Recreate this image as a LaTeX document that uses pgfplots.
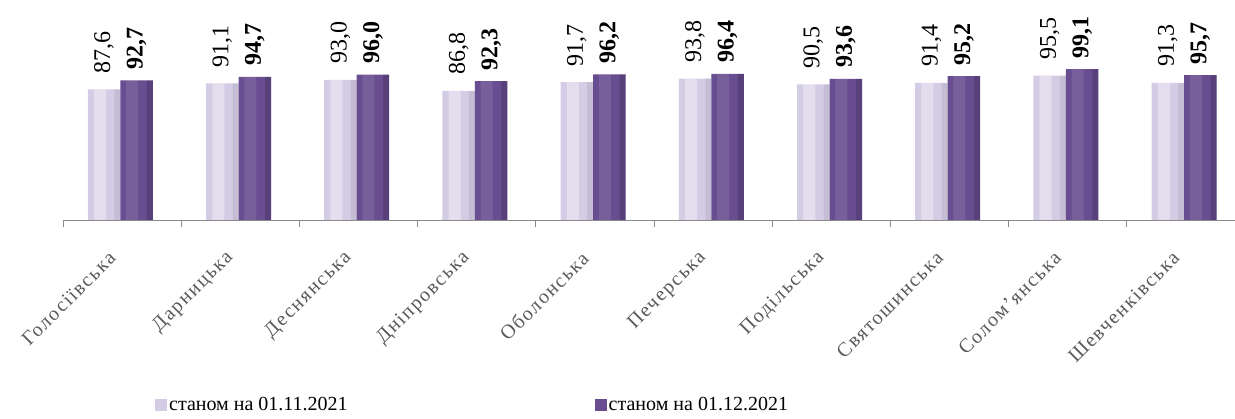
\documentclass[border=0pt]{standalone}
\usepackage{pgfplots}
\pgfplotsset{compat=1.18}
\usepackage{pgfplotstable}
\usepackage{fontspec}
\setmainfont{Liberation Serif}
\newfontfamily\catfont{Liberation Serif}[LetterSpace=8]
\definecolor{lav}{RGB}{212,204,229}
\definecolor{pur}{RGB}{104,77,145}
\pgfplotstableread{
x a b
0 87.6 92.7
1 91.1 94.7
2 93.0 96.0
3 86.8 92.3
4 91.7 96.2
5 93.8 96.4
6 90.5 93.6
7 91.4 95.2
8 95.5 99.1
9 91.3 95.7
}\datatab
\begin{document}
\begin{tikzpicture}
\path[use as bounding box] (0,0) rectangle (1235pt,419pt);
\begin{axis}[
  at={(63pt,199pt)}, anchor=south west,
  scale only axis, width=1182pt, height=170pt,
  xmin=-0.5, xmax=9.5, ymin=13.5, ymax=110,
  axis x line*=bottom, axis y line=none,
  x axis line style={draw=black!45, line width=0.8pt},
  ybar, bar width=32.5pt,
  xtick={0,...,9},
  xticklabels={Голосіївська, Дарницька, Деснянська, Дніпровська, Оболонська, Печерська, Подільська, Святошинська, Солом’янська, Шевченківська},
  major tick length=0pt,
  minor xtick={-0.5,0.5,...,9.5}, minor tick length=7pt,
  minor tick style={draw=black!45, line width=0.8pt},
  tick align=outside,
  xticklabel shift=25pt,
  xticklabel style={font=\catfont\fontsize{20}{24}\selectfont, text=black!65, rotate=45, anchor=east, inner sep=0pt, xshift=-14pt},
  point meta=y,
  /pgf/number format/use comma,
  /pgf/number format/fixed,
  /pgf/number format/fixed zerofill,
  /pgf/number format/precision=1,
  /pgf/number format/assume math mode=true,
  legend style={at={(0.0778,-1.088)}, anchor=west, draw=none, fill=none, inner sep=0pt,
    font=\fontsize{20}{24}\selectfont,
    /tikz/every even column/.append style={column sep=245pt}},
  legend columns=2,
  legend image code/.code={\fill[#1] (0pt,-6pt) rectangle (12pt,6pt);},
]
\addplot[draw=none, fill=lav, bar shift=-18pt, nodes near coords,
  every node near coord/.append style={font=\fontsize{24}{28}\selectfont, text=black, rotate=90, anchor=west, inner sep=0pt, outer sep=16pt}]
  table[x=x, y=a] {\datatab};
\addplot[draw=none, fill=pur, bar shift=14.5pt, nodes near coords,
  every node near coord/.append style={font=\bfseries\fontsize{24}{28}\selectfont, text=black, rotate=90, anchor=west, inner sep=0pt, outer sep=11pt}]
  table[x=x, y=b] {\datatab};
% shading strips for the 3D look
\addplot[forget plot, draw=none, fill=white, fill opacity=0.35, bar width=12pt, bar shift=-22pt] table[x=x, y=a] {\datatab};
\addplot[forget plot, draw=none, fill=black, fill opacity=0.07, bar width=6pt, bar shift=-4.75pt] table[x=x, y=a] {\datatab};
\addplot[forget plot, draw=none, fill=white, fill opacity=0.10, bar width=12pt, bar shift=10pt] table[x=x, y=b] {\datatab};
\addplot[forget plot, draw=none, fill=black, fill opacity=0.15, bar width=6pt, bar shift=27.75pt] table[x=x, y=b] {\datatab};
\legend{станом на 01.11.2021, станом на 01.12.2021}
\end{axis}
\end{tikzpicture}
\end{document}
